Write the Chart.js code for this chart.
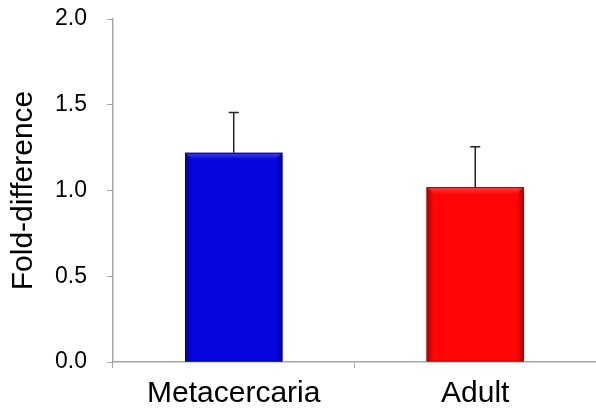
<!DOCTYPE html>
<html>
<head>
<meta charset="utf-8">
<script src="https://cdn.jsdelivr.net/npm/chart.js@4"></script>
<style>
  html, body { margin: 0; padding: 0; background: #fff; overflow: hidden; }
  #wrap { width: 596px; height: 410px; }
</style>
</head>
<body>
<div id="wrap"><canvas id="chart"></canvas></div>
<script>
const stages = ["Metacercaria", "Adult"];
const foldValues = [1.22, 1.02];
const errorValues = [0.235, 0.235];
const barColors = ["#0505e0", "#ff0505"];
const edgeColors = ["#00009a", "#b80000"];
const yTicks = [0, 0.5, 1.0, 1.5, 2.0];

// bevel shading on top of each bar
const bevelPlugin = {
  id: "bevel",
  afterDatasetsDraw(chart) {
    const ctx = chart.ctx;
    const meta = chart.getDatasetMeta(0);
    meta.data.forEach((bar, i) => {
      const left = bar.x - bar.width / 2;
      const right = bar.x + bar.width / 2;
      const top = bar.y;
      const bottom = bar.base;
      const b = 7;
      ctx.save();
      let g = ctx.createLinearGradient(left, 0, left + b, 0);
      g.addColorStop(0, "rgba(0,0,0,0.35)");
      g.addColorStop(1, "rgba(0,0,0,0)");
      ctx.fillStyle = g;
      ctx.fillRect(left, top, b, bottom - top);
      g = ctx.createLinearGradient(right - b, 0, right, 0);
      g.addColorStop(0, "rgba(0,0,0,0)");
      g.addColorStop(1, "rgba(0,0,0,0.35)");
      ctx.fillStyle = g;
      ctx.fillRect(right - b, top, b, bottom - top);
      // top highlight
      g = ctx.createLinearGradient(0, top, 0, top + b);
      g.addColorStop(0, "rgba(255,255,255,0.25)");
      g.addColorStop(1, "rgba(255,255,255,0)");
      ctx.fillStyle = g;
      ctx.beginPath();
      ctx.moveTo(left, top);
      ctx.lineTo(right, top);
      ctx.lineTo(right - b, top + b);
      ctx.lineTo(left + b, top + b);
      ctx.closePath();
      ctx.fill();
      ctx.strokeStyle = edgeColors[i];
      ctx.lineWidth = 1;
      ctx.strokeRect(left + 0.5, top + 0.5, bar.width - 1, bottom - top - 1);
      ctx.restore();
    });
  },
};

const errorBarPlugin = {
  id: "errorBars",
  afterDatasetsDraw(chart) {
    const ctx = chart.ctx;
    const y = chart.scales.y;
    const meta = chart.getDatasetMeta(0);
    ctx.save();
    ctx.strokeStyle = "#222";
    ctx.lineWidth = 1.5;
    meta.data.forEach((bar, i) => {
      const yTop = y.getPixelForValue(foldValues[i] + errorValues[i]);
      const yBar = y.getPixelForValue(foldValues[i]);
      ctx.beginPath();
      ctx.moveTo(bar.x, yBar);
      ctx.lineTo(bar.x, yTop);
      ctx.moveTo(bar.x - 5, yTop);
      ctx.lineTo(bar.x + 5, yTop);
      ctx.stroke();
    });
    ctx.restore();
  },
};

new Chart(document.getElementById("chart"), {
  type: "bar",
  data: {
    labels: stages,
    datasets: [
      {
        data: foldValues,
        backgroundColor: barColors,
        borderWidth: 0,
        barPercentage: 0.403,
        categoryPercentage: 1,
      },
    ],
  },
  options: {
    responsive: true,
    maintainAspectRatio: false,
    animation: false,
    devicePixelRatio: 1,
    layout: { padding: { top: 0, left: 6, right: 0, bottom: -10 } },
    plugins: { legend: { display: false }, tooltip: { enabled: false } },
    scales: {
      x: {
        grid: { drawOnChartArea: false, color: "#a6a6a6", tickLength: 6 },
        border: { color: "#a6a6a6", width: 1.5 },
        ticks: {
          color: "#000",
          padding: 8,
          font: { family: "Liberation Sans", size: 30 },
        },
      },
      y: {
        min: 0,
        max: 2,
        afterBuildTicks: (axis) => {
          axis.ticks = yTicks.map((v) => ({ value: v }));
        },
        afterFit: (axis) => {
          axis.paddingTop = 19;
        },
        grid: { drawOnChartArea: false, color: "#a6a6a6", tickLength: 6 },
        border: { color: "#a6a6a6", width: 1.5 },
        ticks: {
          color: "#000",
          padding: 20,
          font: { family: "Liberation Sans", size: 23 },
          callback: (v) => Number(v).toFixed(1),
        },
        title: {
          display: true,
          text: "Fold-difference",
          color: "#000",
          padding: { top: 0, bottom: -7 },
          font: { family: "Liberation Sans", size: 30 },
        },
      },
    },
  },
  plugins: [bevelPlugin, errorBarPlugin],
});
</script>
</body>
</html>
